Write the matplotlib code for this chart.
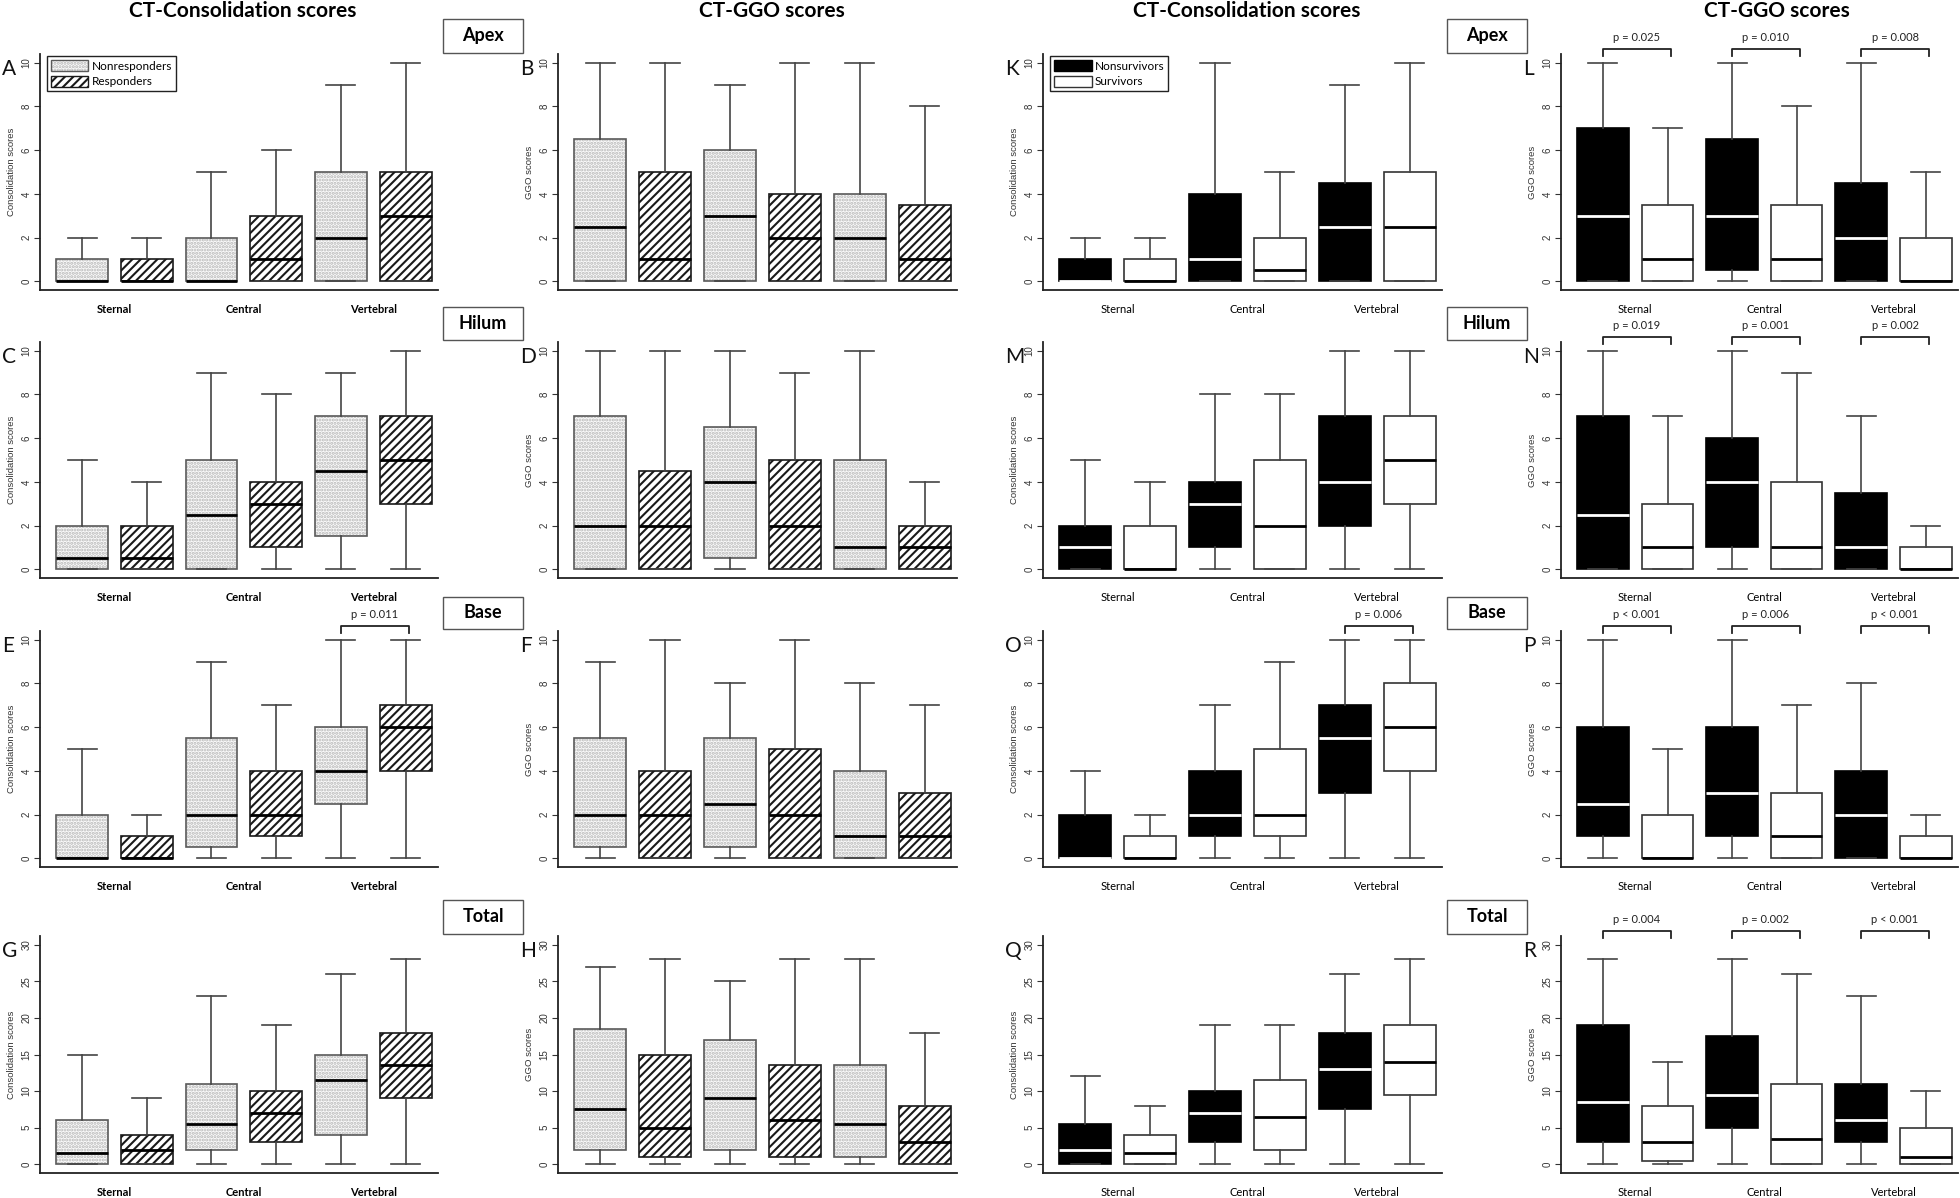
import matplotlib
matplotlib.use("Agg")
import matplotlib.pyplot as plt
from matplotlib.colors import to_rgba
from matplotlib.patches import Patch, Rectangle

plt.rcParams['hatch.linewidth'] = 1.5

regions = ["Sternal", "Central", "Vertebral"]
col_titles = ["CT-Consolidation scores", "CT-GGO scores", "CT-Consolidation scores", "CT-GGO scores"]
row_names = ["Apex", "Hilum", "Base", "Total"]

# boxes per panel: (whisker low, q1, median, q3, whisker high)
# order: group 1 / group 2 for Sternal, Central, Vertebral
A = [(0, 0, 0, 1, 2), (0, 0, 0, 1, 2), (0, 0, 0, 2, 5), (0, 0, 1, 3, 6), (0, 0, 2, 5, 9), (0, 0, 3, 5, 10)]
B = [(0, 0, 2.5, 6.5, 10), (0, 0, 1, 5, 10), (0, 0, 3, 6, 9), (0, 0, 2, 4, 10), (0, 0, 2, 4, 10), (0, 0, 1, 3.5, 8)]
C = [(0, 0, 0.5, 2, 5), (0, 0, 0.5, 2, 4), (0, 0, 2.5, 5, 9), (0, 1, 3, 4, 8), (0, 1.5, 4.5, 7, 9), (0, 3, 5, 7, 10)]
D = [(0, 0, 2, 7, 10), (0, 0, 2, 4.5, 10), (0, 0.5, 4, 6.5, 10), (0, 0, 2, 5, 9), (0, 0, 1, 5, 10), (0, 0, 1, 2, 4)]
E = [(0, 0, 0, 2, 5), (0, 0, 0, 1, 2), (0, 0.5, 2, 5.5, 9), (0, 1, 2, 4, 7), (0, 2.5, 4, 6, 10), (0, 4, 6, 7, 10)]
F = [(0, 0.5, 2, 5.5, 9), (0, 0, 2, 4, 10), (0, 0.5, 2.5, 5.5, 8), (0, 0, 2, 5, 10), (0, 0, 1, 4, 8), (0, 0, 1, 3, 7)]
G = [(0, 0, 1.5, 6, 15), (0, 0, 2, 4, 9), (0, 2, 5.5, 11, 23), (0, 3, 7, 10, 19), (0, 4, 11.5, 15, 26), (0, 9, 13.5, 18, 28)]
H = [(0, 2, 7.5, 18.5, 27), (0, 1, 5, 15, 28), (0, 2, 9, 17, 25), (0, 1, 6, 13.5, 28), (0, 1, 5.5, 13.5, 28), (0, 0, 3, 8, 18)]
K = [(0, 0, 0, 1, 2), (0, 0, 0, 1, 2), (0, 0, 1, 4, 10), (0, 0, 0.5, 2, 5), (0, 0, 2.5, 4.5, 9), (0, 0, 2.5, 5, 10)]
L = [(0, 0, 3, 7, 10), (0, 0, 1, 3.5, 7), (0, 0.5, 3, 6.5, 10), (0, 0, 1, 3.5, 8), (0, 0, 2, 4.5, 10), (0, 0, 0, 2, 5)]
M = [(0, 0, 1, 2, 5), (0, 0, 0, 2, 4), (0, 1, 3, 4, 8), (0, 0, 2, 5, 8), (0, 2, 4, 7, 10), (0, 3, 5, 7, 10)]
N = [(0, 0, 2.5, 7, 10), (0, 0, 1, 3, 7), (0, 1, 4, 6, 10), (0, 0, 1, 4, 9), (0, 0, 1, 3.5, 7), (0, 0, 0, 1, 2)]
O = [(0, 0, 0, 2, 4), (0, 0, 0, 1, 2), (0, 1, 2, 4, 7), (0, 1, 2, 5, 9), (0, 3, 5.5, 7, 10), (0, 4, 6, 8, 10)]
P = [(0, 1, 2.5, 6, 10), (0, 0, 0, 2, 5), (0, 1, 3, 6, 10), (0, 0, 1, 3, 7), (0, 0, 2, 4, 8), (0, 0, 0, 1, 2)]
Q = [(0, 0, 2, 5.5, 12), (0, 0, 1.5, 4, 8), (0, 3, 7, 10, 19), (0, 2, 6.5, 11.5, 19), (0, 7.5, 13, 18, 26), (0, 9.5, 14, 19, 28)]
R = [(0, 3, 8.5, 19, 28), (0, 0.5, 3, 8, 14), (0, 5, 9.5, 17.5, 28), (0, 0, 3.5, 11, 26), (0, 3, 6, 11, 23), (0, 0, 1, 5, 10)]

# p-values per region (None = no bracket)
pE = [None, None, "p = 0.011"]
pL = ["p = 0.025", "p = 0.010", "p = 0.008"]
pN = ["p = 0.019", "p = 0.001", "p = 0.002"]
pO = [None, None, "p = 0.006"]
pP = ["p < 0.001", "p = 0.006", "p < 0.001"]
pR = ["p = 0.004", "p = 0.002", "p < 0.001"]

W, Hh = 1960, 1198
fig = plt.figure(figsize=(19.6, 11.98), dpi=100)

col_left = [40, 558, 1043, 1561]
col_right = [438, 957, 1442, 1958]
row_top = [54, 342, 631, 936]
row_bot = [290, 578, 867, 1173]

TXT = ['Lato', 'DejaVu Sans']
AXF = ['Liberation Sans', 'DejaVu Sans']
DOT_COLOR = '#b8b8b8'


def set_dot_color(patch):
    if hasattr(patch, 'set_hatchcolor'):
        patch.set_hatchcolor(DOT_COLOR)
    else:
        patch._hatch_color = to_rgba(DOT_COLOR)


def dotted(patch):
    # light stipple: hatch colour lighter than the outline
    patch.set_facecolor('#fafafa')
    patch.set_edgecolor('#5a5a5a')
    patch.set_hatch('.....')
    set_dot_color(patch)


def style_boxes(bp, kind):
    for i, box in enumerate(bp['boxes']):
        g = i % 2
        if kind == 'resp':
            if g == 0:
                dotted(box)
            else:
                box.set_facecolor('white')
                box.set_edgecolor('#1a1a1a')
                box.set_hatch('////')
            bp['medians'][i].set_color('black')
        else:
            if g == 0:
                box.set_facecolor('black')
                box.set_edgecolor('black')
                bp['medians'][i].set_color('white')
            else:
                box.set_facecolor('white')
                box.set_edgecolor('#333333')
                bp['medians'][i].set_color('black')
        box.set_linewidth(1.2)


def draw(ax, data, kind, ylabel, ymax, labels=False, bold=False, pvals=None):
    stats = [dict(whislo=d[0], q1=d[1], med=d[2], q3=d[3], whishi=d[4], fliers=[]) for d in data]
    bp = ax.bxp(stats, positions=[1, 2, 3, 4, 5, 6], widths=0.8, patch_artist=True,
                showfliers=False, manage_ticks=False, capwidths=0.45,
                whiskerprops=dict(color='#444444', lw=1.2),
                capprops=dict(color='#444444', lw=1.2),
                medianprops=dict(lw=2.0))
    style_boxes(bp, kind)
    pad = ymax * 0.04
    ax.set_ylim(-pad, ymax + pad)
    ax.set_xlim(0.35, 6.5)
    step = 5 if ymax > 10 else 2
    ax.set_yticks(range(0, ymax + 1, step))
    ax.tick_params(axis='y', labelrotation=90, labelsize=7, length=4, width=0.8,
                   colors='#333333', pad=2)
    for t in ax.get_yticklabels():
        t.set_va('center')
        t.set_family(AXF)
    ax.set_ylabel(ylabel, fontsize=6.8, family=AXF, color='#333333', labelpad=4)
    for s in ['top', 'right']:
        ax.spines[s].set_visible(False)
    for s in ['left', 'bottom']:
        ax.spines[s].set_color('#222222')
        ax.spines[s].set_linewidth(1.3)
    if labels:
        ax.set_xticks([1.5, 3.5, 5.5])
        ax.set_xticklabels(regions, family=TXT, fontsize=8,
                           fontweight='bold' if bold else 'normal')
        ax.tick_params(axis='x', length=0, pad=10)
    else:
        ax.set_xticks([])
    if pvals:
        tr = ax.get_xaxis_transform()
        for j, p in enumerate(pvals):
            if p is None:
                continue
            x1, x2 = 2 * j + 1, 2 * j + 2.05
            ax.plot([x1, x1, x2, x2], [0.99, 1.022, 1.022, 0.99], transform=tr,
                    color='#222222', lw=1.3, clip_on=False)
            ax.text((x1 + x2) / 2, 1.07, p, transform=tr, ha='center', va='center',
                    fontsize=8, family=TXT, color='#222222')


panels = [
    [(A, 'resp', "Consolidation scores", 10, True, True, None, 'A'),
     (B, 'resp', "GGO scores", 10, False, False, None, 'B'),
     (K, 'surv', "Consolidation scores", 10, True, False, None, 'K'),
     (L, 'surv', "GGO scores", 10, True, False, pL, 'L')],
    [(C, 'resp', "Consolidation scores", 10, True, True, None, 'C'),
     (D, 'resp', "GGO scores", 10, False, False, None, 'D'),
     (M, 'surv', "Consolidation scores", 10, True, False, None, 'M'),
     (N, 'surv', "GGO scores", 10, True, False, pN, 'N')],
    [(E, 'resp', "Consolidation scores", 10, True, True, pE, 'E'),
     (F, 'resp', "GGO scores", 10, False, False, None, 'F'),
     (O, 'surv', "Consolidation scores", 10, True, False, pO, 'O'),
     (P, 'surv', "GGO scores", 10, True, False, pP, 'P')],
    [(G, 'resp', "Consolidation scores", 30, True, True, None, 'G'),
     (H, 'resp', "GGO scores", 30, False, False, None, 'H'),
     (Q, 'surv', "Consolidation scores", 30, True, False, None, 'Q'),
     (R, 'surv', "GGO scores", 30, True, False, pR, 'R')],
]

axes = {}
for r in range(4):
    for c in range(4):
        data, kind, ylab, ymax, lab, bold, pv, letter = panels[r][c]
        x0, x1 = col_left[c], col_right[c]
        y0, y1 = row_top[r], row_bot[r]
        ax = fig.add_axes([x0 / W, 1 - y1 / Hh, (x1 - x0) / W, (y1 - y0) / Hh])
        draw(ax, data, kind, ylab, ymax, lab, bold, pv)
        axes[letter] = ax
        fig.text((x0 - 38) / W, 1 - (y0 + 15) / Hh, letter, ha='left', va='center',
                 fontsize=15, family=TXT, color='#111111')

# legends
dot_handle = Patch(label='Nonresponders')
dotted(dot_handle)
leg_resp = [dot_handle,
            Patch(facecolor='white', edgecolor='#1a1a1a', hatch='////', label='Responders')]
leg_surv = [Patch(facecolor='black', edgecolor='black', label='Nonsurvivors'),
            Patch(facecolor='white', edgecolor='#333333', label='Survivors')]
for key, hs in [('A', leg_resp), ('K', leg_surv)]:
    lg = axes[key].legend(handles=hs, loc='upper left', bbox_to_anchor=(0.018, 0.99),
                          borderaxespad=0, fancybox=False, framealpha=1,
                          edgecolor='#222222', handlelength=3.2, handleheight=1.1,
                          handletextpad=0.3, borderpad=0.3, labelspacing=0.35,
                          prop={'family': TXT, 'size': 8.5})
    lg.get_frame().set_linewidth(1.0)
    # keep the light stipple on the legend copy too
    for h in lg.legend_handles:
        if h.get_hatch() == '.....':
            set_dot_color(h)

# column titles
for cx, t in zip([243, 772, 1247, 1777], col_titles):
    fig.text(cx / W, 1 - 11 / Hh, t, ha='center', va='center', fontsize=15,
             fontweight='bold', family=TXT)

# region boxes
box_rows = [(19, 53), (307, 340), (597, 629), (900, 934)]
for (ya, yb), name in zip(box_rows, row_names):
    for bx in [443, 1447]:
        fig.add_artist(Rectangle((bx / W, 1 - yb / Hh), 80 / W, (yb - ya) / Hh,
                                 transform=fig.transFigure, facecolor='white',
                                 edgecolor='#555555', lw=1.0))
        fig.text((bx + 40) / W, 1 - (ya + yb) / 2 / Hh, name, ha='center', va='center',
                 fontsize=13, fontweight='bold', family=TXT)

fig.savefig("out.png", dpi=100, facecolor='white')
